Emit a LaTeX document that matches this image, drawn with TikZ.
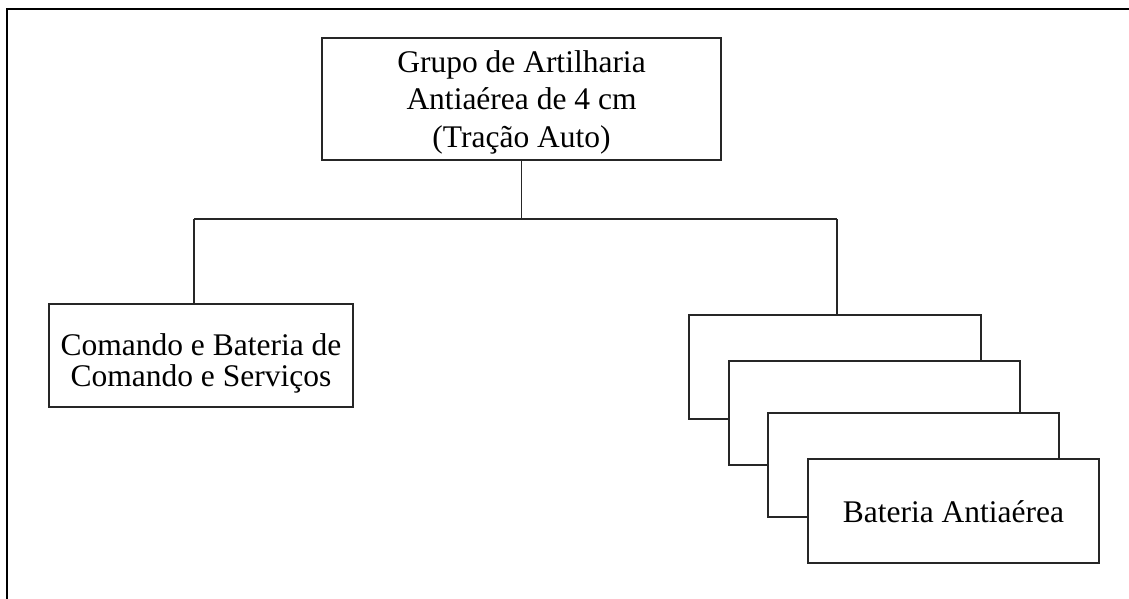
\documentclass[tikz,border=0pt]{standalone}
\usepackage{fontspec}
\setmainfont{Liberation Serif}
\begin{document}
\begin{tikzpicture}[x=1pt,y=-1pt,
  box/.style={draw=black!85,line width=1.2pt,fill=white,rectangle,inner sep=0pt},
  lbl/.style={anchor=base,inner sep=0pt,align=center},
  conn/.style={draw=black!85,line width=1.2pt}]
\useasboundingbox (0,0) rectangle (1129,599);
% outer frame (top and left edges only visible)
\draw[line width=2pt] (6.5,599) -- (6.5,9.5) -- (1129,9.5);
% top box
\node[box,minimum width=399pt,minimum height=122pt] (top) at (521.5,99) {};
\node[lbl,font=\fontsize{31.5}{37.3}\selectfont] (toptxt) at (521.5,147)
  {Grupo de Artilharia\\Antiaérea de 4 cm\\(Tração Auto)};
% left box
\node[box,minimum width=304pt,minimum height=103pt] (cbs) at (201,355.5) {};
\node[lbl,font=\fontsize{31.5}{31}\selectfont] (cbstxt) at (201,386)
  {Comando e Bateria de\\Comando e Serviços};
% stacked boxes
\node[box,minimum width=292pt,minimum height=104pt] (b1) at (835,367) {};
\node[box,minimum width=291pt,minimum height=104pt] (b2) at (874.5,413) {};
\node[box,minimum width=291pt,minimum height=104pt] (b3) at (913.5,465) {};
\node[box,minimum width=291pt,minimum height=104pt] (b4) at (953.5,511) {};
\node[lbl,font=\fontsize{31.5}{37.5}\selectfont] (b4txt) at (953.5,522) {Bateria Antiaérea};
% connectors
\coordinate (jl) at (194,219);
\coordinate (jr) at (837,219);
\draw[conn] (top.south) -- (top.south |- jl);
\draw[conn] (jl) -- (jr);
\draw[conn] (jl) -- (jl |- cbs.north);
\draw[conn] (jr) -- (jr |- b1.north);
\end{tikzpicture}
\end{document}
